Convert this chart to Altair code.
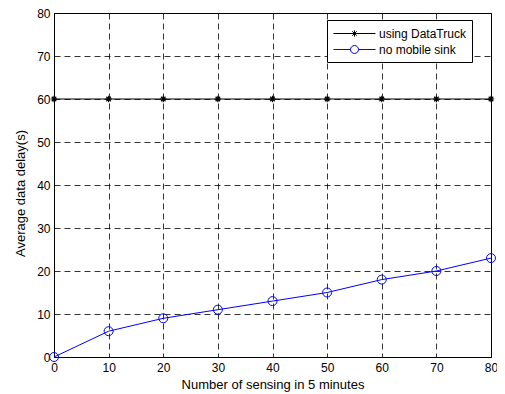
import altair as alt
import pandas as pd

x_vals = [0, 10, 20, 30, 40, 50, 60, 70, 80]
truck_delay = [60, 60, 60, 60, 60, 60, 60, 60, 60]
nosink_delay = [0, 6, 9, 11, 13, 15, 18, 20, 23]
series_names = ["using DataTruck", "no mobile sink"]
x_ticks = [0, 10, 20, 30, 40, 50, 60, 70, 80]
y_ticks = [0, 10, 20, 30, 40, 50, 60, 70, 80]

rows = []
for xv, yv in zip(x_vals, truck_delay):
    rows.append({"x": xv, "y": yv, "series": series_names[0]})
for xv, yv in zip(x_vals, nosink_delay):
    rows.append({"x": xv, "y": yv, "series": series_names[1]})
df = pd.DataFrame(rows)

FONT = "Liberation Sans"
star_path = "M-1,0L1,0M0,-1L0,1M-0.7,-0.7L0.7,0.7M-0.7,0.7L0.7,-0.7"
leg_truck = "M-1,0L5,0M2,-0.45L2,0.45M1.55,0L2.45,0M1.68,-0.32L2.32,0.32M1.68,0.32L2.32,-0.32"
leg_sink = "M-1,0L1.43,0M2.57,0L5,0M2.57,0A0.57,0.57 0 1,1 1.43,0A0.57,0.57 0 1,1 2.57,0"

xenc = alt.X("x:Q", scale=alt.Scale(domain=[0, 80], nice=False),
             axis=alt.Axis(values=x_ticks, title="Number of sensing in 5 minutes",
                           labelFlush=False, labelOverlap=False, labelPadding=5,
                           titlePadding=5, format="d"))
yenc = alt.Y("y:Q", scale=alt.Scale(domain=[0, 80], nice=False),
             axis=alt.Axis(values=y_ticks, title="Average data delay(s)",
                           labelFlush=False, labelOverlap=False, labelPadding=4,
                           titlePadding=9, titleY=180, format="d"))

base = alt.Chart(df)

line_truck = base.transform_filter(alt.datum.series == series_names[0]).mark_line(
    color="black", strokeWidth=1).encode(x=xenc, y=yenc)
line_sink = base.transform_filter(alt.datum.series == series_names[1]).mark_line(
    color="#0000ff", strokeWidth=1).encode(x=xenc, y=yenc)
pts_truck = base.transform_filter(alt.datum.series == series_names[0]).mark_point(
    shape=star_path, size=42, stroke="black", strokeWidth=1.2, filled=False, opacity=1).encode(x=xenc, y=yenc)
pts_sink = base.transform_filter(alt.datum.series == series_names[1]).mark_point(
    shape="circle", size=81, stroke="#0000ff", strokeWidth=1, filled=False, opacity=1).encode(x=xenc, y=yenc)

leg = alt.Legend(title=None, orient="none", legendX=273, legendY=7,
                 strokeColor="black", fillColor="white", padding=6, rowPadding=2,
                 labelFont=FONT, labelFontSize=12, labelColor="black", labelOffset=31,
                 symbolSize=196, symbolStrokeWidth=1, symbolOpacity=1, symbolFillColor="transparent")

legend_layer = base.mark_point(opacity=0, filled=False, size=196).encode(
    x=xenc, y=yenc,
    color=alt.Color("series:N", scale=alt.Scale(domain=series_names, range=["black", "#0000ff"]), legend=leg),
    shape=alt.Shape("series:N", scale=alt.Scale(domain=series_names, range=[leg_truck, leg_sink]), legend=leg),
)

chart = alt.layer(line_truck, line_sink, pts_truck, pts_sink, legend_layer).properties(
    width=437, height=344,
    autosize=alt.AutoSizeParams(type="none"),
    padding={"left": 46, "top": 5, "right": 6, "bottom": 36},
    background="white",
).configure_view(stroke="black", strokeWidth=1).configure_axis(
    domain=True, domainColor="black", domainWidth=1, ticks=False,
    grid=True, gridColor="black", gridDash=[6, 4], gridWidth=0.8, gridOpacity=1,
    labelFont=FONT, labelFontSize=12, labelColor="black",
    titleFont=FONT, titleFontSize=13, titleFontWeight="normal", titleColor="black",
)

chart.save("out.html", embed_options={"renderer": "svg", "actions": False})
